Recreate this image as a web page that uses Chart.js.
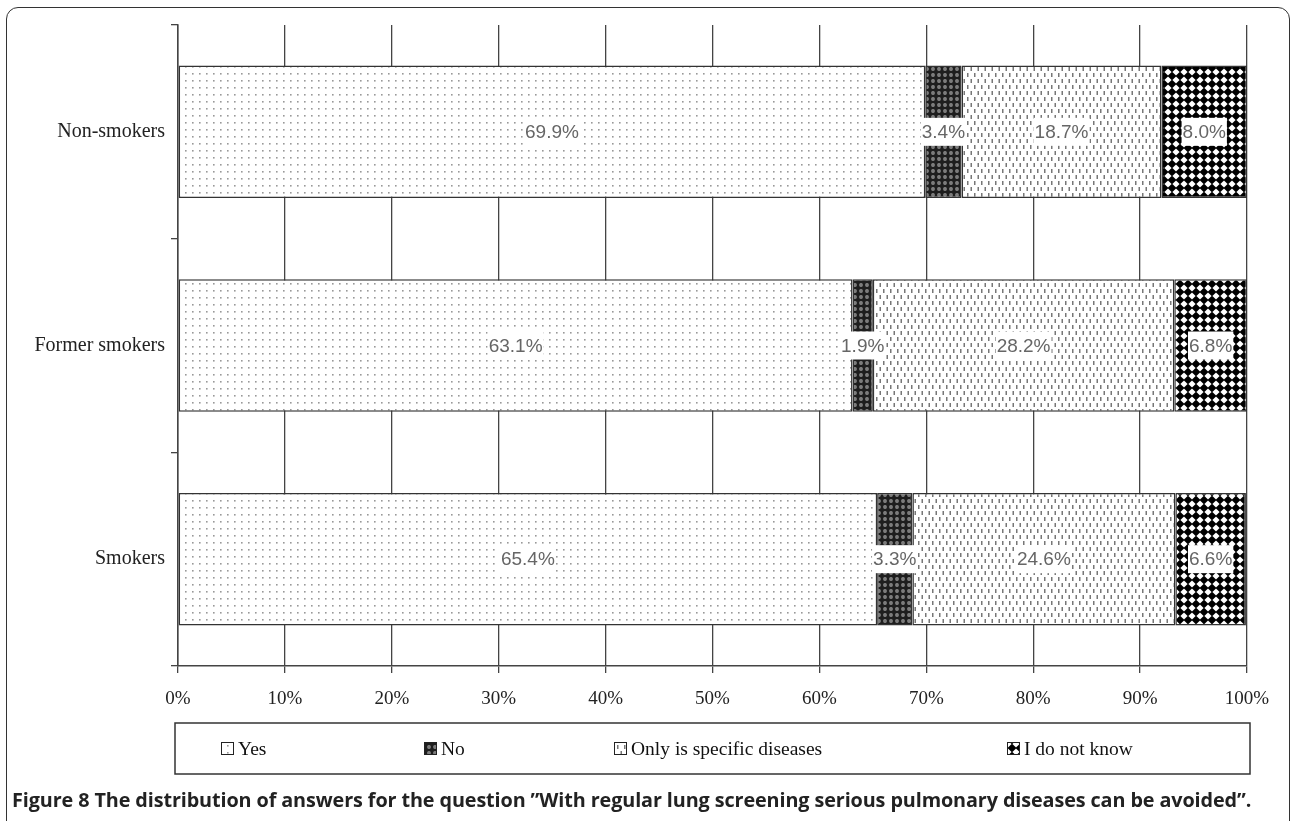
<!DOCTYPE html>
<html>
<head>
<meta charset="utf-8">
<script src="https://cdn.jsdelivr.net/npm/chart.js@4.4.1/dist/chart.umd.min.js"></script>
<style>
body{margin:0;background:#fff;}
#wrap{position:relative;width:1292px;height:821px;overflow:hidden;}
#frame{position:absolute;left:6px;top:7px;width:1284px;height:840px;border:1.5px solid #333;border-radius:12px;box-sizing:border-box;}
#chart{position:absolute;left:0;top:0;}
#caption{position:absolute;left:12px;top:786px;font-family:"Open Sans",sans-serif;font-weight:bold;font-size:19.8px;color:#222;white-space:nowrap;letter-spacing:-0.1px;}
</style>
</head>
<body>
<div id="wrap">
<div id="frame"></div>
<canvas id="chart" width="1292" height="821"></canvas>
<div id="caption">Figure 8 The distribution of answers for the question ”With regular lung screening serious pulmonary diseases can be avoided”.</div>
</div>
<script>
// DATA
var categories = ["Non-smokers","Former smokers","Smokers"];
var yesVals = [69.9, 63.1, 65.4];
var noVals = [3.4, 1.9, 3.3];
var specificVals = [18.7, 28.2, 24.6];
var dontKnowVals = [8.0, 6.8, 6.6];
var seriesNames = ["Yes","No","Only is specific diseases","I do not know"];

// -----------------------------
// fill patterns
function makePattern(w,h,draw){
  var c=document.createElement("canvas");
  c.width=w; c.height=h;
  var g=c.getContext("2d");
  draw(g,w,h);
  return c.getContext("2d").createPattern(c,"repeat");
}

var patYes = makePattern(7,7,function(g,w,h){
  g.fillStyle="#fff"; g.fillRect(0,0,w,h);
  g.fillStyle="#999";
  g.fillRect(3,3,1.6,1.6);
});

var patNo = makePattern(6,6,function(g,w,h){
  g.fillStyle="#1e1e1e"; g.fillRect(0,0,w,h);
  g.fillStyle="#8a8a8a";
  g.beginPath(); g.arc(3,3,1.9,0,Math.PI*2); g.fill();
  g.fillStyle="#333";
  g.fillRect(2.6,2.6,0.8,0.8);
});

var patSpec = makePattern(7,12,function(g,w,h){
  g.fillStyle="#fff"; g.fillRect(0,0,w,h);
  g.fillStyle="#777";
  g.fillRect(1,1,1.5,4);
  g.fillRect(4.5,7,1.5,4);
});

var patDk = makePattern(8,8,function(g,w,h){
  g.fillStyle="#fff"; g.fillRect(0,0,w,h);
  g.fillStyle="#000";
  var d=4.4;
  g.beginPath();
  g.moveTo(4,4-d); g.lineTo(4+d,4); g.lineTo(4,4+d); g.lineTo(4-d,4);
  g.closePath(); g.fill();
});

var patterns=[patYes,patNo,patSpec,patDk];

// -----------------------------
var labelPlugin = {
  id:"segLabels",
  afterDatasetsDraw:function(chart){
    var ctx=chart.ctx;
    ctx.save();
    ctx.font="19px 'Liberation Sans', Arial, sans-serif";
    ctx.textAlign="center";
    ctx.textBaseline="middle";
    chart.data.datasets.forEach(function(ds,i){
      var meta=chart.getDatasetMeta(i);
      meta.data.forEach(function(bar,j){
        var txt=ds.data[j].toFixed(1)+"%";
        var cx=(bar.x+bar.base)/2, cy=bar.y;
        var tw=ctx.measureText(txt).width;
        ctx.fillStyle="#fff";
        ctx.fillRect(cx-tw/2-1,cy-14,tw+2,28);
        ctx.fillStyle="#666";
        ctx.fillText(txt,cx,cy+1);
      });
    });
    ctx.restore();
  }
};

var legendPlugin = {
  id:"boxLegend",
  afterDraw:function(chart){
    var ctx=chart.ctx;
    var left=175, top=723, right=1250, bottom=774;
    ctx.save();
    ctx.strokeStyle="#333";
    ctx.lineWidth=1.5;
    ctx.strokeRect(left,top,right-left,bottom-top);
    var xs=[221,424,614,1007];
    var cy=(top+bottom)/2;
    ctx.font="19.5px 'Liberation Serif', 'Times New Roman', serif";
    ctx.textBaseline="middle";
    ctx.textAlign="left";
    seriesNames.forEach(function(name,i){
      ctx.fillStyle=patterns[i];
      ctx.fillRect(xs[i],cy-6.5,13,13);
      ctx.strokeStyle="#222";
      ctx.lineWidth=1;
      ctx.strokeRect(xs[i]+0.5,cy-6,12,12);
      ctx.fillStyle="#111";
      ctx.fillText(name,xs[i]+17,cy+1);
    });
    ctx.restore();
  }
};

// -----------------------------
var valueSets=[yesVals,noVals,specificVals,dontKnowVals];
var serif="'Liberation Serif', 'Times New Roman', serif";

var chart = new Chart(document.getElementById("chart"),{
  type:"bar",
  data:{
    labels:categories,
    datasets:valueSets.map(function(vals,i){
      return {
        label:seriesNames[i],
        data:vals,
        backgroundColor:patterns[i],
        borderColor:"#333",
        borderWidth:1.5,
        borderSkipped:false,
        categoryPercentage:0.62,
        barPercentage:1.0
      };
    })
  },
  options:{
    indexAxis:"y",
    responsive:false,
    animation:false,
    devicePixelRatio:1,
    layout:{padding:{left:0,right:45,top:25,bottom:105}},
    plugins:{legend:{display:false},tooltip:{enabled:false}},
    scales:{
      x:{
        stacked:true,
        min:0,max:100,
        ticks:{stepSize:10,callback:function(v){return v+"%";},color:"#222",padding:15,
          font:{family:serif,size:19}},
        grid:{color:"#444",lineWidth:1.3,tickLength:7},
        border:{display:true,color:"#444",width:1.5},
        afterFit:function(s){s.height=50;}
      },
      y:{
        stacked:true,
        ticks:{color:"#222",padding:6,
          font:{family:serif,size:20}},
        grid:{offset:true,drawOnChartArea:false,color:"#444",lineWidth:1.3,tickLength:7},
        border:{display:true,color:"#444",width:1.5},
        afterFit:function(s){s.width=178;}
      }
    }
  },
  plugins:[labelPlugin,legendPlugin]
});
</script>
</body>
</html>
